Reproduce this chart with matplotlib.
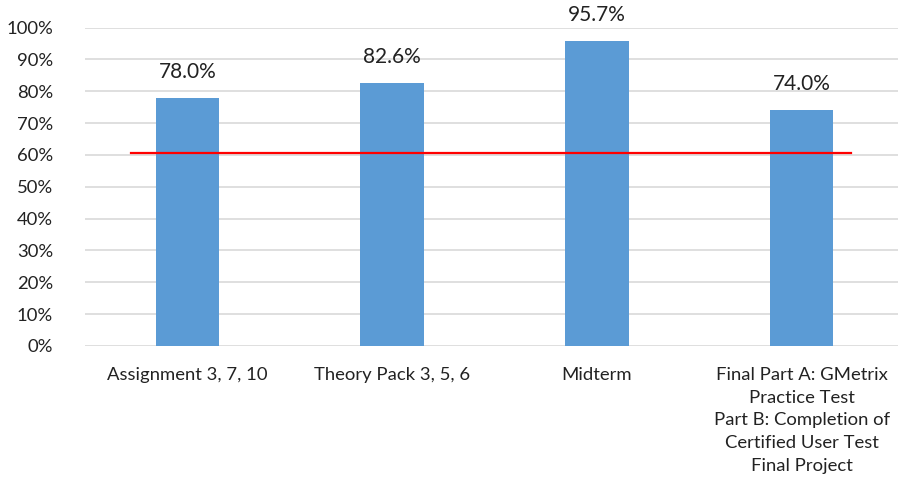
import matplotlib
matplotlib.use("Agg")
import matplotlib.pyplot as plt

categories = ["Assignment 3, 7, 10", "Theory Pack 3, 5, 6", "Midterm",
              "Final Part A: GMetrix\nPractice Test\nPart B: Completion of\nCertified User Test\nFinal Project"]
values = [78.0, 82.6, 95.7, 74.0]
target = 60.6
yticks = [0, 10, 20, 30, 40, 50, 60, 70, 80, 90, 100]

plt.rcParams['font.family'] = ['Lato', 'DejaVu Sans']

fig = plt.figure(figsize=(8.98, 4.80), dpi=100)
ax = fig.add_axes([85/898, 1-346/480, 819/898, (346-27.5)/480])

x = list(range(len(categories)))
bars = ax.bar(x, values, width=0.31, color="#5B9BD5", zorder=3)
for xi, v in zip(x, values):
    ax.text(xi, v + 5.0, f"{v:.1f}%", ha="center", va="bottom", fontsize=15, color="#222222")

ax.plot([-0.275, 3.24], [target, target], color="#FF0000", lw=1.6, zorder=4)

ax.set_xlim(-0.5, 3.5)
ax.set_ylim(0, 100)
ax.set_yticks(yticks)
ax.set_yticklabels([f"{t}%" for t in yticks], fontsize=13.3, color="#222222")
ax.set_xticks(x)
ax.set_xticklabels(categories, fontsize=13.3, color="#222222", linespacing=1.52, va="top")
ax.tick_params(axis="both", length=0)
ax.tick_params(axis="y", pad=23)
ax.tick_params(axis="x", pad=15)
ax.grid(axis="y", color="#D9D9D9", lw=1.2, zorder=0)
for s in ax.spines.values():
    s.set_visible(False)

fig.savefig("out.png", dpi=100)
